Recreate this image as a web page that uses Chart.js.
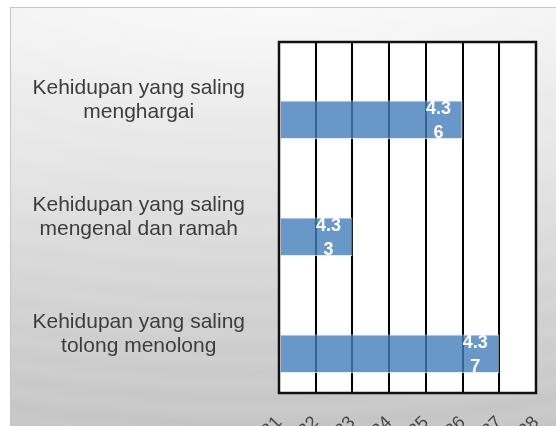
<!DOCTYPE html>
<html>
<head>
<meta charset="utf-8">
<title>Kehidupan yang saling</title>
<script src="https://cdn.jsdelivr.net/npm/chart.js@4.4.0/dist/chart.umd.min.js"></script>
<style>
  html, body { margin: 0; padding: 0; width: 556px; height: 426px; overflow: hidden; background: #fff; }
  #slide {
    position: absolute; left: 10px; top: 7px; width: 546px; height: 419px;
    border-left: 1px solid #c6c6c6; border-top: 1px solid #c6c6c6;
    background:
      radial-gradient(ellipse 75% 28% at 50% 0%, rgba(255,255,255,0.55), rgba(255,255,255,0) 100%),
      repeating-radial-gradient(ellipse 160% 120% at 45% -40%, rgba(255,255,255,0) 0px, rgba(255,255,255,0.08) 22px, rgba(255,255,255,0) 44px),
      linear-gradient(#f2f2f2, #e6e6e6 35%, #d2d2d2 70%, #c4c4c4);
  }
  #wrap { position: absolute; left: 0; top: 0; width: 556px; height: 426px; }
</style>
</head>
<body>
<div id="slide"></div>
<div id="wrap"><canvas id="chart"></canvas></div>

<script>
// categories and values
var categories = [
  ['Kehidupan yang saling', 'menghargai'],
  ['Kehidupan yang saling', 'mengenal dan ramah'],
  ['Kehidupan yang saling', 'tolong menolong']
];
var scores = [4.36, 4.33, 4.37];
var axisMin = 4.31;
var axisMax = 4.38;
var axisStep = 0.01;

// white plot area + black frame
var plotFrame = {
  id: 'plotFrame',
  beforeDraw: function(chart) {
    var a = chart.chartArea, ctx = chart.ctx;
    ctx.save();
    ctx.fillStyle = '#fff';
    ctx.fillRect(a.left, a.top, a.right - a.left, a.bottom - a.top);
    ctx.restore();
  },
  afterDraw: function(chart) {
    var a = chart.chartArea, ctx = chart.ctx;
    ctx.save();
    ctx.strokeStyle = '#111';
    ctx.lineWidth = 2.5;
    ctx.strokeRect(a.left, a.top, a.right - a.left, a.bottom - a.top);
    ctx.restore();
  }
};

// wrapped value labels inside bar ends ("4.3" / "6")
var valueLabels = {
  id: 'valueLabels',
  afterDatasetsDraw: function(chart) {
    var meta = chart.getDatasetMeta(1);
    var ctx = chart.ctx;
    ctx.save();
    ctx.fillStyle = '#fff';
    ctx.font = 'bold 18px "Liberation Sans", Arial, sans-serif';
    ctx.textAlign = 'center';
    ctx.textBaseline = 'middle';
    meta.data.forEach(function(bar, i) {
      var s = scores[i].toFixed(2);
      var x = bar.x - 24;
      ctx.fillText(s.slice(0, 3), x, bar.y - 10.5);
      ctx.fillText(s.slice(3), x, bar.y + 13);
    });
    ctx.restore();
  }
};

function noPad(scale) {
  scale.paddingTop = 0; scale.paddingBottom = 0;
  scale.paddingLeft = 0; scale.paddingRight = 0;
}

var ctx = document.getElementById('chart').getContext('2d');
var myChart = new Chart(ctx, {
  type: 'bar',
  data: {
    labels: categories,
    datasets: [{
      label: '',
      data: [null, null, null]
    }, {
      label: 'Skor',
      data: scores,
      base: axisMin,
      backgroundColor: 'rgba(68, 125, 185, 0.8)',
      borderColor: 'rgba(220, 232, 245, 0.8)',
      borderWidth: 1,
      borderSkipped: false
    }]
  },
  options: {
    indexAxis: 'y',
    responsive: true,
    maintainAspectRatio: false,
    animation: false,
    events: [],
    categoryPercentage: 0.66,
    barPercentage: 1,
    layout: { padding: { top: 42, right: 20, left: 0, bottom: 0 } },
    plugins: { legend: { display: false }, tooltip: { enabled: false } },
    scales: {
      x: {
        min: axisMin,
        max: axisMax,
        border: { display: false },
        grid: { color: '#000', lineWidth: 2, drawTicks: false },
        ticks: {
          stepSize: axisStep,
          autoSkip: false,
          minRotation: 45,
          maxRotation: 45,
          padding: 19,
          color: '#444',
          font: { family: '"Liberation Sans", Arial, sans-serif', size: 18 },
          callback: function(v) { return Number(v).toFixed(2); }
        },
        afterFit: function(scale) { scale.height = 33; noPad(scale); }
      },
      y: {
        border: { display: false },
        grid: { display: false, drawTicks: false },
        ticks: {
          crossAlign: 'center',
          padding: 34,
          color: '#3c3c3c',
          font: { family: '"Liberation Sans", Arial, sans-serif', size: 21, lineHeight: 1.15 }
        },
        afterFit: function(scale) { scale.width = 279; noPad(scale); }
      }
    }
  },
  plugins: [plotFrame, valueLabels]
});
</script>
</body>
</html>
